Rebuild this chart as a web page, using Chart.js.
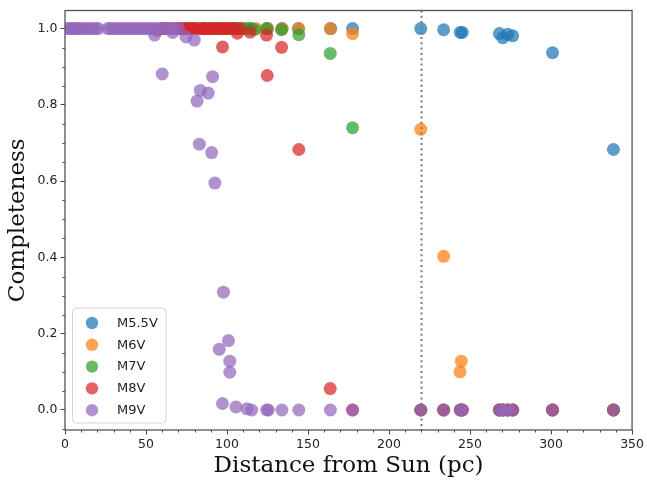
<!DOCTYPE html>
<html>
<head>
<meta charset="utf-8">
<script src="https://cdn.jsdelivr.net/npm/chart.js@4.4.0/dist/chart.umd.min.js"></script>
<style>
html,body{margin:0;padding:0;background:#fff;}
#wrap{width:647px;height:482px;position:relative;}
</style>
</head>
<body>
<div id="wrap"><canvas id="c" width="647" height="482"></canvas></div>
<script>
// ---- data ----
const seriesNames = ['M5.5V', 'M6V', 'M7V', 'M8V', 'M9V'];

const m55vDist = [75, 85, 95, 105, 115, 125, 134, 144, 164, 177.5, 219.6, 233.7, 244, 245.2, 268.1, 270.2, 273.2, 276.3, 300.9, 338.5];
const m55vComp = [1, 1, 1, 1, 1, 1, 1, 1, 1, 1.0, 1.0, 0.997, 0.99, 0.99, 0.987, 0.976, 0.985, 0.981, 0.937, 0.683];

const m6vDist = [80, 90, 100, 110, 118, 125, 134, 144.3, 163.7, 177.5, 219.6, 233.7, 244.6, 243.8, 268.1, 270.2, 273.2, 276.3, 300.9, 338.5];
const m6vComp = [1, 1, 1, 1, 1, 1, 1, 1.0, 1.0, 0.987, 0.736, 0.403, 0.128, 0.100, 0, 0, 0, 0, 0, 0];

const m7vDist = [62, 70, 78, 86, 92, 97, 101, 105, 108, 111, 113.6, 117, 124.4, 133.6, 144.3, 163.7, 177.5, 219.6, 233.7, 244, 245.2, 268.1, 270.2, 273.2, 276.3, 300.9, 338.5];
const m7vComp = [1, 1, 1, 1, 1, 1, 1, 1, 1, 1, 1.0, 0.998, 1.0, 0.997, 0.984, 0.935, 0.740, 0, 0, 0, 0, 0, 0, 0, 0, 0, 0];

const m8vDist = [57, 60, 63, 66, 69, 71, 73, 75, 77, 79, 81, 83, 85, 87, 89, 91, 93, 95, 97, 99, 101, 103, 105, 97.2, 106.4, 108, 114.2, 124.4, 124.8, 133.7, 144.3, 163.7, 177.5, 219.6, 233.7, 244, 245.2, 268.1, 270.2, 273.2, 276.3, 300.9, 338.5];
const m8vComp = [0.995, 1, 1, 1, 1, 1, 1, 1, 1, 1, 1, 1, 1, 1, 1, 1, 1, 1, 1, 1, 1, 1, 1, 0.952, 0.988, 1.0, 0.991, 0.983, 0.877, 0.951, 0.683, 0.056, 0, 0, 0, 0, 0, 0, 0, 0, 0, 0, 0];

const m9vDist = [1.5, 3, 4.5, 6, 7.5, 9, 11, 13, 15, 17, 19, 20.5, 26.5, 28, 30, 32, 34, 36, 38, 40, 42, 44, 46, 48, 50, 52, 54, 56, 58.5, 61.5, 64, 67, 70,
  55.3, 66.5, 74.7, 79.8, 60.0, 91.1, 83.5, 88.4, 81.5, 82.9, 90.5, 92.5, 97.8, 100.9, 95.2, 101.7, 101.7, 97.2,
  105.5, 112.3, 115.2, 124.5, 125.5, 133.9, 144.3, 163.8, 177.5, 219.6, 233.7, 244, 245.2, 268.1, 270.2, 273.2, 276.3, 300.9, 338.5];
const m9vComp = [1, 1, 1, 1, 1, 1, 1, 1, 1, 1, 1, 1, 1, 1, 1, 1, 1, 1, 1, 1, 1, 1, 1, 1, 1, 1, 1, 1, 1, 1, 1, 1, 1,
  0.983, 0.99, 0.978, 0.970, 0.881, 0.874, 0.838, 0.831, 0.810, 0.697, 0.675, 0.595, 0.309, 0.182, 0.159, 0.128, 0.099, 0.017,
  0.008, 0.003, 0.0, 0, 0, 0, 0, 0, 0, 0, 0, 0, 0, 0, 0, 0, 0, 0, 0];

const xTickLabels = [0, 50, 100, 150, 200, 250, 300, 350];
const yTickLabels = [0.0, 0.2, 0.4, 0.6, 0.8, 1.0];
const refDistance = 220;

// ---- styles ----
const colors = [[31,119,180],[255,127,14],[44,160,44],[214,39,40],[148,103,189]];
const alpha = 0.72;
const dists = [m55vDist, m6vDist, m7vDist, m8vDist, m9vDist];
const comps = [m55vComp, m6vComp, m7vComp, m8vComp, m9vComp];

const datasets = seriesNames.map((name, i) => ({
  label: name,
  data: dists[i].map((d, j) => ({x: d, y: comps[i][j]})),
  backgroundColor: `rgba(${colors[i].join(',')},${alpha})`,
  borderWidth: 0,
  pointRadius: 6.5,
  pointHoverRadius: 6.5,
  order: seriesNames.length - i   // later series drawn on top
}));

const decor = {
  id: 'decor',
  afterDatasetsDraw(chart) {
    const ctx = chart.ctx, a = chart.chartArea, xs = chart.scales.x;
    const px = Math.round(xs.getPixelForValue(refDistance)) + 0.5;
    ctx.save();
    ctx.strokeStyle = '#777';
    ctx.lineWidth = 2;
    ctx.setLineDash([2, 3.3]);
    ctx.beginPath();
    ctx.moveTo(px, a.top);
    ctx.lineTo(px, a.bottom);
    ctx.stroke();
    ctx.restore();
  },
  afterDraw(chart) {
    const ctx = chart.ctx, a = chart.chartArea, xs = chart.scales.x, ys = chart.scales.y;
    ctx.save();
    ctx.strokeStyle = '#444';
    ctx.lineWidth = 1;
    ctx.beginPath();
    for (let v = 0; v <= 350; v += 10) {
      if (v % 50 === 0) continue;
      const p = Math.round(xs.getPixelForValue(v)) + 0.5;
      ctx.moveTo(p, a.bottom); ctx.lineTo(p, a.bottom + 2.5);
    }
    for (let k = -1; k <= 21; k++) {
      const v = k * 0.05;
      if (k % 4 === 0 || v < ys.min || v > ys.max) continue;
      const p = Math.round(ys.getPixelForValue(v)) + 0.5;
      ctx.moveTo(a.left, p); ctx.lineTo(a.left - 2.5, p);
    }
    ctx.stroke();
    ctx.strokeStyle = '#555';
    ctx.lineWidth = 1.3;
    ctx.strokeRect(a.left, a.top, a.right - a.left, a.bottom - a.top);
    ctx.fillStyle = '#111';
    ctx.font = '23px "DejaVu Serif"';
    ctx.textAlign = 'center';
    ctx.textBaseline = 'middle';
    ctx.fillText('Distance from Sun (pc)', (a.left + a.right) / 2, 466);
    ctx.translate(18, (a.top + a.bottom) / 2);
    ctx.rotate(-Math.PI / 2);
    ctx.fillText('Completeness', 0, 0);
    ctx.restore();

    // legend
    ctx.save();
    const bx = 72.5, by = 308, bw = 93.5, bh = 115, r = 4;
    ctx.beginPath();
    ctx.moveTo(bx + r, by);
    ctx.arcTo(bx + bw, by, bx + bw, by + bh, r);
    ctx.arcTo(bx + bw, by + bh, bx, by + bh, r);
    ctx.arcTo(bx, by + bh, bx, by, r);
    ctx.arcTo(bx, by, bx + bw, by, r);
    ctx.closePath();
    ctx.fillStyle = 'rgba(255,255,255,0.85)';
    ctx.fill();
    ctx.strokeStyle = '#d4d4d4';
    ctx.lineWidth = 1;
    ctx.stroke();
    ctx.font = '13px "DejaVu Sans"';
    ctx.textAlign = 'left';
    ctx.textBaseline = 'middle';
    chart.data.datasets.forEach((ds, i) => {
      const y = 323 + i * 21.8;
      ctx.beginPath();
      ctx.arc(92, y, 6.2, 0, Math.PI * 2);
      ctx.fillStyle = ds.backgroundColor;
      ctx.fill();
      ctx.fillStyle = '#222';
      ctx.fillText(ds.label, 117, y + 0.5);
    });
    ctx.restore();
  }
};

new Chart(document.getElementById('c'), {
  type: 'scatter',
  data: { datasets },
  options: {
    responsive: false,
    animation: false,
    devicePixelRatio: 1,
    layout: { padding: { top: 7, right: 12, left: 0, bottom: 0 } },
    plugins: { legend: { display: false }, tooltip: { enabled: false } },
    scales: {
      x: {
        type: 'linear', min: 0, max: 350,
        afterFit(s) { s.height = 52; },
        afterBuildTicks(s) { s.ticks = xTickLabels.map(v => ({ value: v })); },
        grid: { display: true, drawOnChartArea: false, drawTicks: true, tickLength: 4.5, tickColor: '#444', tickWidth: 1 },
        border: { display: false },
        ticks: { padding: 3, color: '#222', font: { family: 'DejaVu Sans', size: 12.5 }, maxRotation: 0, callback: v => String(v) }
      },
      y: {
        type: 'linear', min: -0.0525, max: 1.0475,
        afterFit(s) { s.width = 65; },
        afterBuildTicks(s) { s.ticks = yTickLabels.map(v => ({ value: v })); },
        grid: { display: true, drawOnChartArea: false, drawTicks: true, tickLength: 4.5, tickColor: '#444', tickWidth: 1 },
        border: { display: false },
        ticks: { padding: 3, color: '#222', font: { family: 'DejaVu Sans', size: 12.5 }, callback: v => Number(v).toFixed(1) }
      }
    }
  },
  plugins: [decor]
});
</script>
</body>
</html>
